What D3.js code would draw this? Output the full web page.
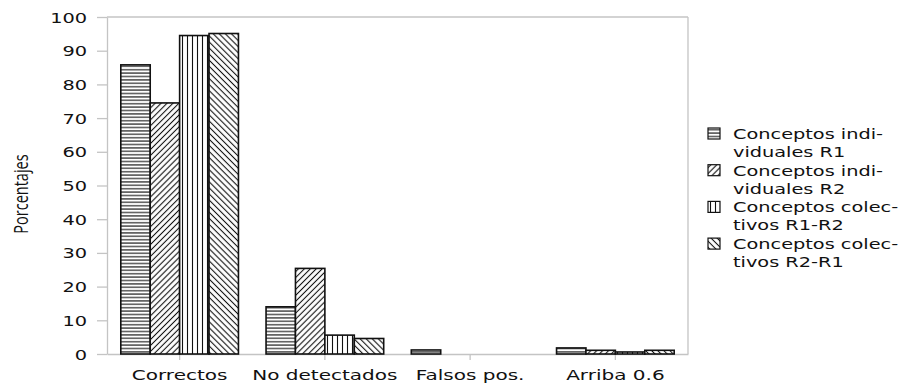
<!DOCTYPE html>
<html>
<head>
<meta charset="utf-8">
<script src="https://cdn.jsdelivr.net/npm/d3@7"></script>
<style>
  body { margin: 0; background: #fff; }
  svg { display: block; }
</style>
</head>
<body>
<svg id="chart" width="908" height="383"></svg>
<script>
// data
const categories = ["Correctos", "No detectados", "Falsos pos.", "Arriba 0.6"];
const seriesNames = [
  ["Conceptos indi-", "viduales R1"],
  ["Conceptos indi-", "viduales R2"],
  ["Conceptos colec-", "tivos R1-R2"],
  ["Conceptos colec-", "tivos R2-R1"]
];
const indivR1 = [85.8, 14.0, 1.2, 1.8];
const indivR2 = [74.5, 25.4, 0, 1.1];
const colecR1R2 = [94.5, 5.6, 0, 0.6];
const colecR2R1 = [95.1, 4.6, 0, 1.1];
const yTicks = [0, 10, 20, 30, 40, 50, 60, 70, 80, 90, 100];
const yLabel = "Porcentajes";

const series = [indivR1, indivR2, colecR1R2, colecR2R1];
const patternIds = ["hatchH", "hatchFwd", "hatchV", "hatchBack"];

const stretch = 1.38;   // the original is drawn horizontally stretched
const grey = "#c4c4c4";
const ink = "#111";

const chart = d3.select("#chart");
const margin = {left: 107, right: 220, top: 17, bottom: 29};
const width = 908, height = 383;

const x = d3.scaleBand()
  .domain(categories)
  .range([margin.left, width - margin.right])
  .paddingInner(0.19)
  .paddingOuter(0.095);
const x1 = d3.scaleBand()
  .domain(d3.range(series.length))
  .range([0, x.bandwidth()]);
const y = d3.scaleLinear()
  .domain([0, 100])
  .range([height - margin.bottom, margin.top]);

// hatching patterns
const defs = chart.append("defs");
const addPattern = (id, size, rot, vertical) => {
  let p = defs.append("pattern")
    .attr("id", id)
    .attr("patternUnits", "userSpaceOnUse")
    .attr("width", size)
    .attr("height", size);
  if (rot) p.attr("patternTransform", `rotate(${rot})`);
  p.append("rect").attr("width", size).attr("height", size).attr("fill", "#fff");
  if (vertical) {
    p.append("line").attr("x1", size / 2).attr("x2", size / 2).attr("y1", 0).attr("y2", size)
      .attr("stroke", ink).attr("stroke-width", 1.1);
  } else {
    p.append("line").attr("x1", 0).attr("x2", size).attr("y1", size / 2).attr("y2", size / 2)
      .attr("stroke", ink).attr("stroke-width", 1.1);
  }
};
addPattern("hatchH", 3.4, 0, false);
addPattern("hatchFwd", 4.2, -45, false);
addPattern("hatchV", 5, 0, true);
addPattern("hatchBack", 4.3, 45, false);

// frame
chart.append("line")
  .attr("x1", margin.left).attr("x2", width - margin.right)
  .attr("y1", margin.top).attr("y2", margin.top)
  .attr("stroke", grey).attr("stroke-width", 1.3);
chart.append("line")
  .attr("x1", width - margin.right).attr("x2", width - margin.right)
  .attr("y1", margin.top).attr("y2", height - margin.bottom)
  .attr("stroke", grey).attr("stroke-width", 1.3);

// y axis
let y_axis = d3.axisLeft(y).tickValues(yTicks).tickSizeInner(10).tickSizeOuter(0);
let gy = chart.append("g")
  .attr("transform", `translate(${margin.left},0)`)
  .call(y_axis);
gy.select(".domain").attr("stroke", grey).attr("stroke-width", 1.3);
gy.selectAll(".tick line").attr("stroke", grey).attr("stroke-width", 1.3);
gy.selectAll(".tick text")
  .attr("x", 0)
  .attr("dy", "0.36em")
  .attr("transform", `translate(-20,0) scale(${stretch},1)`)
  .style("font-family", "DejaVu Sans")
  .style("font-size", "14px")
  .style("fill", ink);

// x axis
let x_axis = d3.axisBottom(x).tickSizeInner(6).tickSizeOuter(0);
let gx = chart.append("g")
  .attr("transform", `translate(0,${height - margin.bottom})`)
  .call(x_axis);
gx.select(".domain").attr("stroke", grey).attr("stroke-width", 1.3);
gx.selectAll(".tick line").attr("stroke", grey).attr("stroke-width", 1.3);
gx.selectAll(".tick text")
  .attr("y", 0)
  .attr("dy", 0)
  .attr("transform", `translate(0,26) scale(${stretch},1)`)
  .style("font-family", "DejaVu Sans")
  .style("font-size", "14.5px")
  .style("fill", ink);

// y label
chart.append("text")
  .attr("transform", `translate(28,194) scale(${stretch},1) rotate(-90)`)
  .style("text-anchor", "middle")
  .style("font-family", "Open Sans")
  .style("font-size", "14.5px")
  .style("fill", ink)
  .text(yLabel);

// bars
series.forEach((vals, s) => {
  chart.append("g")
    .selectAll("rect")
    .data(vals)
    .join("rect")
    .attr("x", (d, i) => x(categories[i]) + x1(s))
    .attr("y", (d) => y(d))
    .attr("width", x1.bandwidth())
    .attr("height", (d) => y(0) - y(d))
    .attr("fill", `url(#${patternIds[s]})`)
    .attr("stroke", (d) => d > 0 ? ink : "none")
    .attr("stroke-width", 1.6);
});

// legend
let legend = chart.append("g").attr("transform", "translate(708,128)");
seriesNames.forEach((lines, s) => {
  let row = legend.append("g").attr("transform", `translate(0,${s * 36.7})`);
  row.append("rect")
    .attr("width", 12).attr("height", 11)
    .attr("fill", `url(#${patternIds[s]})`)
    .attr("stroke", ink).attr("stroke-width", 1.2);
  lines.forEach((t, k) => {
    row.append("text")
      .attr("transform", `translate(25,${11 + k * 18}) scale(${stretch},1)`)
      .style("font-family", "DejaVu Sans")
      .style("font-size", "14px")
      .style("fill", ink)
      .text(t);
  });
});
</script>
</body>
</html>
